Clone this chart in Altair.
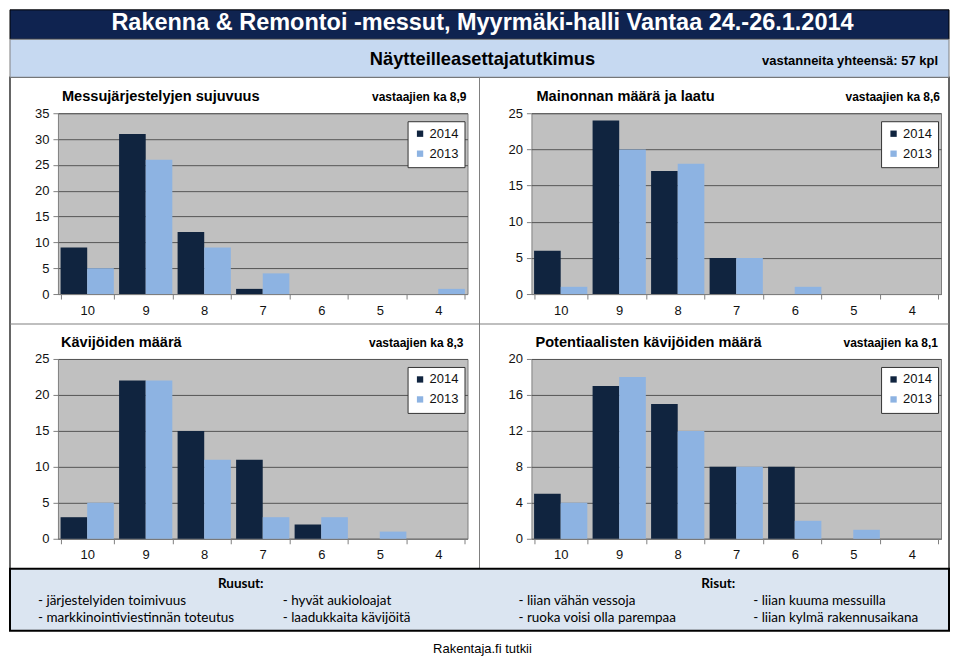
import altair as alt
import pandas as pd

# ---------------- data ----------------
CATS = ["10", "9", "8", "7", "6", "5", "4"]
YEARS = ["2014", "2013"]

MAIN_TITLE = "Rakenna & Remontoi -messut, Myyrmäki-halli Vantaa 24.-26.1.2014"
SUB_TITLE = "Näytteilleasettajatutkimus"
RESPONDENTS = "vastanneita yhteensä: 57 kpl"
FOOTER = "Rakentaja.fi tutkii"

P1_TITLE = "Messujärjestelyjen sujuvuus"
P1_AVG = "vastaajien ka 8,9"
P1_2014 = [9, 31, 12, 1, 0, 0, 0]
P1_2013 = [5, 26, 9, 4, 0, 0, 1]
P1_TICKS = [0, 5, 10, 15, 20, 25, 30, 35]

P2_TITLE = "Mainonnan määrä ja laatu"
P2_AVG = "vastaajien ka 8,6"
P2_2014 = [6, 24, 17, 5, 0, 0, 0]
P2_2013 = [1, 20, 18, 5, 1, 0, 0]
P2_TICKS = [0, 5, 10, 15, 20, 25]

P3_TITLE = "Kävijöiden määrä"
P3_AVG = "vastaajien ka 8,3"
P3_2014 = [3, 22, 15, 11, 2, 0, 0]
P3_2013 = [5, 22, 11, 3, 3, 1, 0]
P3_TICKS = [0, 5, 10, 15, 20, 25]

P4_TITLE = "Potentiaalisten kävijöiden määrä"
P4_AVG = "vastaajien ka 8,1"
P4_2014 = [5, 17, 15, 8, 8, 0, 0]
P4_2013 = [4, 18, 12, 8, 2, 1, 0]
P4_TICKS = [0, 4, 8, 12, 16, 20]

RUUSUT_HEAD = "Ruusut:"
RUUSUT_COL1 = ["- järjestelyiden toimivuus", "- markkinointiviestinnän toteutus"]
RUUSUT_COL2 = ["- hyvät aukioloajat", "- laadukkaita kävijöitä"]
RISUT_HEAD = "Risut:"
RISUT_COL1 = ["- liian vähän vessoja", "- ruoka voisi olla parempaa"]
RISUT_COL2 = ["- liian kuuma messuilla", "- liian kylmä rakennusaikana"]

# ---------------- styles ----------------
ARIAL = "Liberation Sans"
CALIBRI = "Lato"
NAVY = "#10243f"
LIGHT = "#8db3e2"
PLOT_BG = "#c0c0c0"
PLOT_BORDER = "#808080"
GRID = "#555555"
TITLE_BG = "#0f2350"
BAND_BG = "#c6d9f1"
BOX_BG = "#dbe5f1"

ONE = pd.DataFrame({"k": [0]})


def text_layer(s, x, y, size, weight="normal", align="left", font=ARIAL,
               color="black", line_height=None):
    kw = dict(align=align, baseline="middle", fontSize=size, fontWeight=weight,
              font=font, color=color)
    if line_height is not None:
        kw["lineBreak"] = "\n"
        kw["lineHeight"] = line_height
    return alt.Chart(pd.DataFrame({"t": [s]})).mark_text(**kw).encode(
        text="t:N", x=alt.value(x), y=alt.value(y))


def rect_layer(x1, x2, y1, y2, fill, stroke, sw):
    return alt.Chart(ONE).mark_rect(fill=fill, stroke=stroke, strokeWidth=sw).encode(
        x=alt.value(x1), x2=alt.value(x2), y=alt.value(y1), y2=alt.value(y2))


def rule_layer(x1, x2, y1, y2, color, sw):
    return alt.Chart(ONE).mark_rule(color=color, strokeWidth=sw).encode(
        x=alt.value(x1), x2=alt.value(x2), y=alt.value(y1), y2=alt.value(y2))


def panel(title, avg, v14, v13, ticks, w, h, title_x, avg_x, extra=()):
    df = pd.DataFrame({
        "cat": CATS + CATS,
        "year": [YEARS[0]] * len(CATS) + [YEARS[1]] * len(CATS),
        "n": v14 + v13,
    })
    bars = alt.Chart(df).mark_bar().encode(
        x=alt.X("cat:N", sort=CATS,
                scale=alt.Scale(paddingInner=0.09, paddingOuter=0.045),
                axis=alt.Axis(title=None, labelAngle=0, tickBand="extent",
                              domainColor=PLOT_BORDER, tickColor=PLOT_BORDER,
                              tickSize=5, labelPadding=5, labelFontSize=13,
                              labelFont=ARIAL, labelColor="#111111", grid=False)),
        xOffset=alt.XOffset("year:N", sort=YEARS,
                            scale=alt.Scale(domain=YEARS, paddingInner=0, paddingOuter=0)),
        y=alt.Y("n:Q", scale=alt.Scale(domain=[ticks[0], ticks[-1]], nice=False),
                axis=alt.Axis(values=ticks, title=None, domain=False,
                              tickColor=PLOT_BORDER, tickSize=5, labelPadding=4,
                              labelFontSize=13, labelFont=ARIAL, labelColor="#111111",
                              gridColor=GRID, gridWidth=1)),
        color=alt.Color("year:N", sort=YEARS,
                        scale=alt.Scale(domain=YEARS, range=[NAVY, LIGHT]),
                        legend=alt.Legend(orient="none", legendX=350, legendY=8,
                                          title=None, fillColor="white",
                                          strokeColor="#333333", padding=6,
                                          labelFontSize=13, labelFont=ARIAL,
                                          labelColor="#111111",
                                          symbolType="square", symbolSize=40,
                                          symbolStrokeWidth=0, rowPadding=6,
                                          labelOffset=3)),
    )
    t1 = text_layer(title, title_x, -16, 14.6, "bold")
    t2 = text_layer(avg, avg_x, -16, 12, "bold", align="right")
    return alt.layer(*extra, bars, t1, t2).properties(
        width=w, height=h,
        view=alt.ViewBackground(fill=PLOT_BG, stroke=PLOT_BORDER, strokeWidth=1))


# ---------- page decorations (relative to the first plot's origin) ----------
L, R = -48, 892
decor = [
    rect_layer(L, R, -36, 456, "transparent", "#333333", 1.5),
    rule_layer(422, 422, -36, 456, "#808080", 1),
    rule_layer(L, R, 211, 211, "#808080", 1),
    rect_layer(L, R, -103.5, -74, TITLE_BG, "black", 1),
    rect_layer(L, R, -74, -36, BAND_BG, "#808080", 1),
    text_layer(MAIN_TITLE, 425, -90, 23.5, "bold", align="center", color="white"),
    text_layer(SUB_TITLE, 425, -53, 18.3, "bold", align="center"),
    text_layer(RESPONDENTS, 881, -52, 13, "bold", align="right"),
    rect_layer(L, R, 456, 518, BOX_BG, "black", 2),
    text_layer(RUUSUT_HEAD, 183, 471, 13.5, "bold", align="center", font=CALIBRI),
    text_layer("\n".join(RUUSUT_COL1), -20, 488, 13.5, font=CALIBRI, line_height=17),
    text_layer("\n".join(RUUSUT_COL2), 225, 488, 13.5, font=CALIBRI, line_height=17),
    text_layer(RISUT_HEAD, 661, 471, 13.5, "bold", align="center", font=CALIBRI),
    text_layer("\n".join(RISUT_COL1), 461, 488, 13.5, font=CALIBRI, line_height=17),
    text_layer("\n".join(RISUT_COL2), 696, 488, 13.5, font=CALIBRI, line_height=17),
    text_layer(FOOTER, 425, 536, 13, align="center"),
]

p1 = panel(P1_TITLE, P1_AVG, P1_2014, P1_2013, P1_TICKS, 410, 181, 4, 409, extra=decor)
p2 = panel(P2_TITLE, P2_AVG, P2_2014, P2_2013, P2_TICKS, 410, 181, 5, 409)
p3 = panel(P3_TITLE, P3_AVG, P3_2014, P3_2013, P3_TICKS, 410, 180, 3, 406)
p4 = panel(P4_TITLE, P4_AVG, P4_2014, P4_2013, P4_TICKS, 410, 180, 4, 407)

chart = alt.concat(p1, p2, p3, p4, columns=2,
                   spacing={"row": 65, "column": 64}, bounds="flush")
chart = chart.resolve_scale(x="independent", y="independent", color="independent",
                            xOffset="independent").resolve_legend(
    color="independent").resolve_axis(x="independent", y="independent")
chart = chart.properties(padding=0, background="white").configure_view(
    strokeWidth=0).configure(font=ARIAL)

chart.save("out.html", embed_options={"renderer": "svg", "actions": False})
